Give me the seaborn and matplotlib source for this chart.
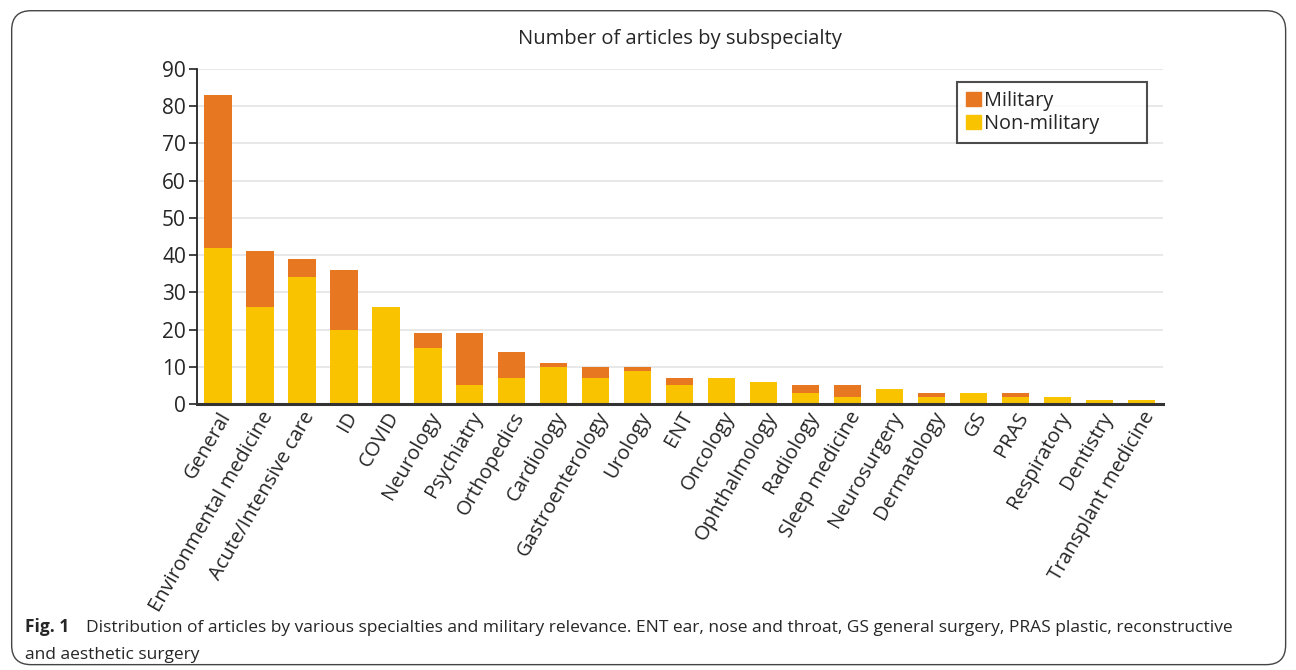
import matplotlib
matplotlib.use('Agg')
import matplotlib.pyplot as plt
import seaborn as sns
import pandas as pd
from matplotlib.patches import FancyBboxPatch, Patch

# data
specialties = ['General', 'Environmental medicine', 'Acute/Intensive care', 'ID', 'COVID',
               'Neurology', 'Psychiatry', 'Orthopedics', 'Cardiology', 'Gastroenterology',
               'Urology', 'ENT', 'Oncology', 'Ophthalmology', 'Radiology', 'Sleep medicine',
               'Neurosurgery', 'Dermatology', 'GS', 'PRAS', 'Respiratory', 'Dentistry',
               'Transplant medicine']
non_military = [42, 26, 34, 20, 26, 15, 5, 7, 10, 7, 9, 5, 7, 6, 3, 2, 4, 2, 3, 2, 2, 1, 1]
military = [41, 15, 5, 16, 0, 4, 14, 7, 1, 3, 1, 2, 0, 0, 2, 3, 0, 1, 0, 1, 0, 0, 0]

ORANGE = '#E87722'
YELLOW = '#F9C300'

df = pd.DataFrame({'specialty': specialties,
                   'non_military': non_military,
                   'military': military})
df['total'] = df['non_military'] + df['military']

sns.set_style('white')
plt.rcParams['font.family'] = ['Open Sans', 'DejaVu Sans']

fig = plt.figure(figsize=(12.96, 6.70), dpi=100)
ax = fig.add_axes([0.152, 0.397, 0.745, 0.500])

# stacked bars: total (orange) underneath, non-military (yellow) on top
sns.barplot(data=df, x='specialty', y='total', color=ORANGE, width=0.65,
            saturation=1, linewidth=0, ax=ax, zorder=3)
sns.barplot(data=df, x='specialty', y='non_military', color=YELLOW, width=0.65,
            saturation=1, linewidth=0, ax=ax, zorder=4)

ax.set_xlim(-0.5, len(specialties) - 0.5)
ax.set_ylim(0, 90)
ax.set_yticks(range(0, 91, 10))
ax.yaxis.grid(True, color='#e4e4e4', linewidth=1.2, zorder=0)
ax.xaxis.grid(False)
ax.set_xlabel('')
ax.set_ylabel('')

for s in ['top', 'right']:
    ax.spines[s].set_visible(False)
ax.spines['left'].set_color('#222222')
ax.spines['left'].set_linewidth(1.3)
ax.spines['bottom'].set_color('#333333')
ax.spines['bottom'].set_linewidth(2.2)
for s in ['left', 'bottom']:
    ax.spines[s].set_zorder(6)

ax.tick_params(axis='y', which='major', direction='out', length=6, width=1.2,
               color='#222222', labelsize=15, pad=2, left=True)
ax.tick_params(axis='x', length=0, labelsize=14.5, pad=3)
plt.setp(ax.get_xticklabels(), rotation=60, ha='right', rotation_mode='anchor')

ax.set_title('Number of articles by subspecialty', fontsize=14.5, pad=18)

# legend box stretched to the width seen in the reference
handles = [Patch(facecolor=ORANGE, edgecolor=ORANGE, label='Military'),
           Patch(facecolor=YELLOW, edgecolor=YELLOW, label='Non-military')]
leg = ax.legend(handles=handles, loc='upper left', bbox_to_anchor=(0.787, 0.779, 0.197, 0.182),
                mode='expand', fontsize=14.3, frameon=True, fancybox=False, handlelength=0.75,
                handleheight=0.75, handletextpad=0.15, borderpad=0.45,
                labelspacing=0.15, borderaxespad=0)
leg.get_frame().set_edgecolor('#222222')
leg.get_frame().set_linewidth(1.5)
leg.set_zorder(10)

# outer rounded frame around figure + caption
box = FancyBboxPatch((0.009, 0.008), 0.983, 0.976, transform=fig.transFigure,
                     boxstyle='round,pad=0,rounding_size=0.015', facecolor='none',
                     edgecolor='#444444', linewidth=1.0, mutation_aspect=1296 / 670)
fig.patches.append(box)

fig.text(0.019, 0.056, 'Fig. 1', fontsize=12.5, fontweight='bold', ha='left', va='baseline')
fig.text(0.066, 0.056, 'Distribution of articles by various specialties and military relevance. '
         'ENT ear, nose and throat, GS general surgery, PRAS plastic, reconstructive',
         fontsize=12.5, ha='left', va='baseline')
fig.text(0.019, 0.016, 'and aesthetic surgery', fontsize=12.5, ha='left', va='baseline')

fig.savefig('out.png', dpi=100)
